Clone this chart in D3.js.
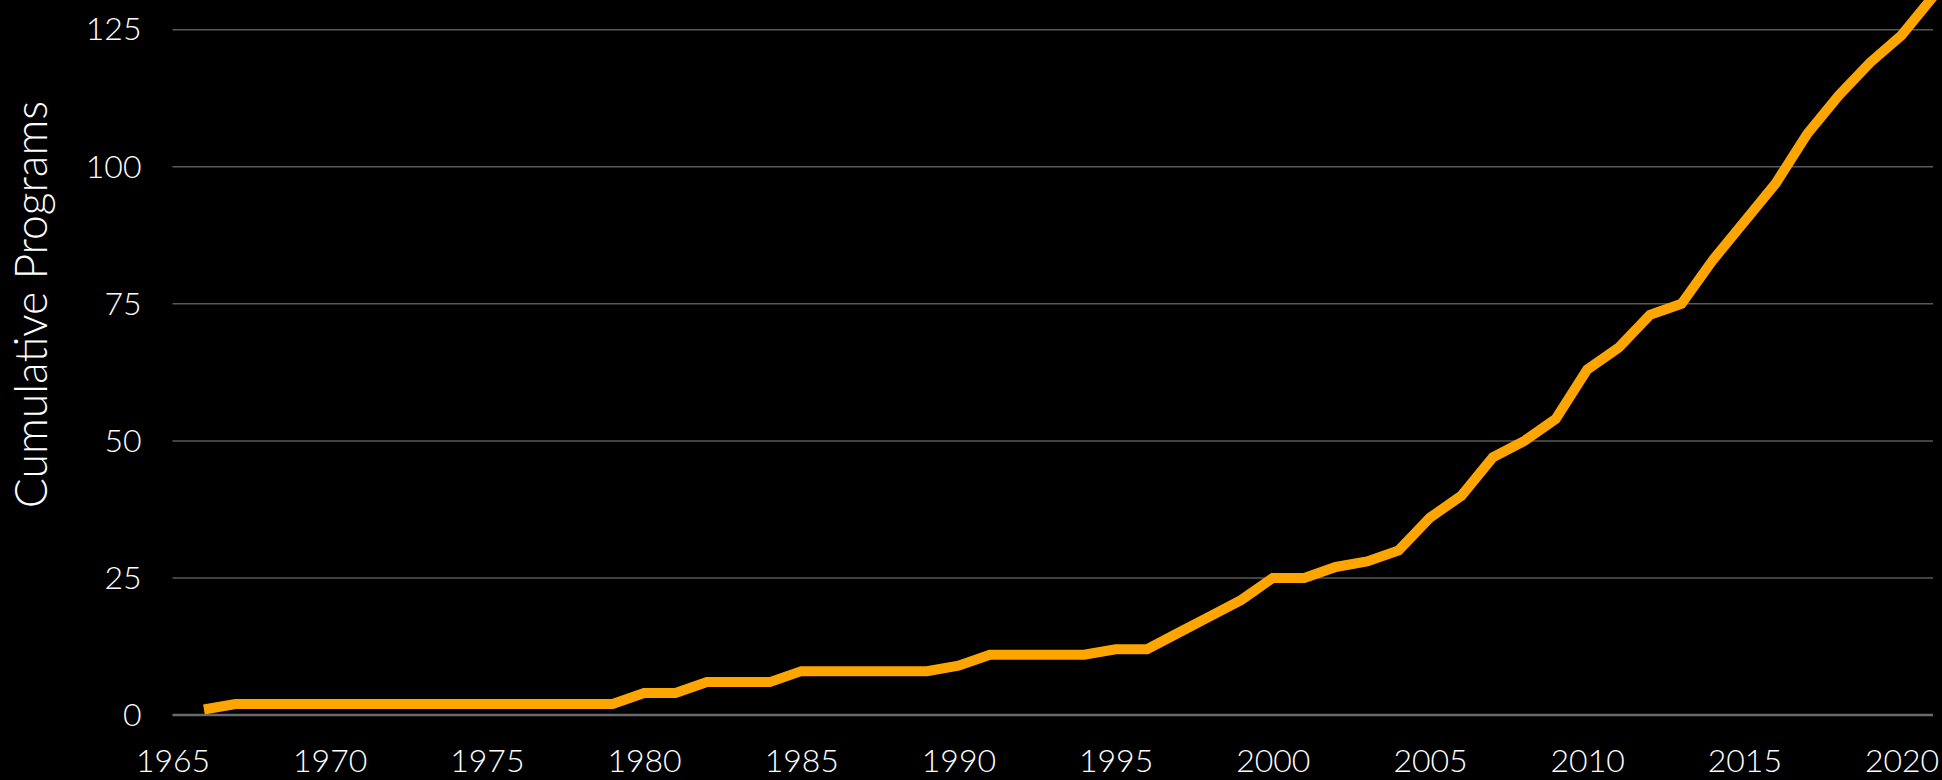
<!DOCTYPE html>
<html lang="en">
<head>
    <meta charset="UTF-8">
    <title>Cumulative Programs</title>
    <script src="https://d3js.org/d3.v7.min.js"></script>
    <style>
        body {
            margin: 0;
            background: #000;
            font-family: Lato, "Open Sans", sans-serif;
        }
        svg {
            display: block;
        }
        .tick text {
            fill: #fff;
            font-family: Lato, sans-serif;
            font-weight: 300;
            font-size: 32px;
        }
        .axis-title {
            fill: #fff;
            font-family: Lato, sans-serif;
            font-weight: 300;
            font-size: 44.5px;
        }
    </style>
</head>
<body>
    <div class="chart"></div>

    <script>
        // Years and cumulative program counts
        const years = [1966, 1967, 1968, 1969, 1970, 1971, 1972, 1973, 1974, 1975,
            1976, 1977, 1978, 1979, 1980, 1981, 1982, 1983, 1984, 1985,
            1986, 1987, 1988, 1989, 1990, 1991, 1992, 1993, 1994, 1995,
            1996, 1997, 1998, 1999, 2000, 2001, 2002, 2003, 2004, 2005,
            2006, 2007, 2008, 2009, 2010, 2011, 2012, 2013, 2014, 2015,
            2016, 2017, 2018, 2019, 2020, 2021];
        const programs = [1, 2, 2, 2, 2, 2, 2, 2, 2, 2,
            2, 2, 2, 2, 4, 4, 6, 6, 6, 8,
            8, 8, 8, 8, 9, 11, 11, 11, 11, 12,
            12, 15, 18, 21, 25, 25, 27, 28, 30, 36,
            40, 47, 50, 54, 63, 67, 73, 75, 83, 90,
            97, 106, 113, 119, 124, 131];
        const xTicks = [1965, 1970, 1975, 1980, 1985, 1990, 1995, 2000, 2005, 2010, 2015, 2020];
        const yTicks = [0, 25, 50, 75, 100, 125];

        const data = years.map((year, i) => ({ year, value: programs[i] }));

        const width = 1942;
        const height = 780;

        const svg = d3.select(".chart")
            .append("svg")
            .attr("width", width)
            .attr("height", height);

        // Scales
        const xScale = d3.scaleLinear()
            .domain([1965, 2021])
            .range([172.5, 1933]);

        const yScale = d3.scaleLinear()
            .domain([0, 125])
            .range([715, 29.7]);

        // Horizontal gridlines
        svg.append("g")
            .selectAll("line")
            .data(yTicks)
            .join("line")
            .attr("x1", xScale.range()[0])
            .attr("x2", xScale.range()[1])
            .attr("y1", d => yScale(d))
            .attr("y2", d => yScale(d))
            .attr("stroke", d => d === 0 ? "#6a6a6a" : "#595959")
            .attr("stroke-width", d => d === 0 ? 2.5 : 1.5);

        // Y axis labels
        const yAxis = svg.append("g")
            .attr("transform", `translate(${xScale.range()[0]},0)`)
            .call(d3.axisLeft(yScale).tickValues(yTicks).tickSize(0).tickPadding(31));
        yAxis.select(".domain").remove();

        // X axis labels
        const xAxis = svg.append("g")
            .attr("transform", `translate(0,${yScale(0)})`)
            .call(d3.axisBottom(xScale).tickValues(xTicks).tickFormat(d3.format("d")).tickSize(0).tickPadding(34));
        xAxis.select(".domain").remove();

        // The line
        const line = d3.line()
            .x(d => xScale(d.year))
            .y(d => yScale(d.value));

        svg.append("path")
            .datum(data)
            .attr("fill", "none")
            .attr("stroke", "#ffa500")
            .attr("stroke-width", 10)
            .attr("stroke-linejoin", "miter")
            .attr("stroke-linecap", "butt")
            .attr("d", line);

        // Y axis title
        svg.append("text")
            .attr("class", "axis-title")
            .attr("text-anchor", "middle")
            .attr("transform", "rotate(-90)")
            .attr("x", -304.5)
            .attr("y", 47)
            .text("Cumulative Programs");
    </script>
</body>
</html>
